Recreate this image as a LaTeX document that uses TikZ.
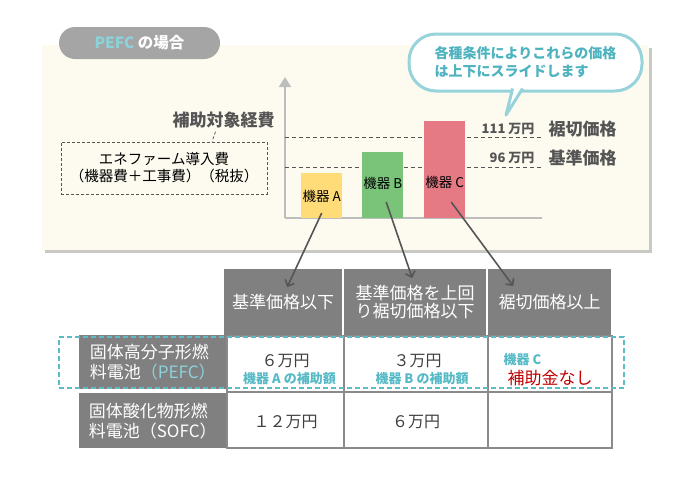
\documentclass[tikz,border=0pt]{standalone}
\usepackage{fontspec}
\setmainfont{Noto Sans CJK JP}
\usepackage{xcolor}
\usepackage{tikz}
\usetikzlibrary{arrows.meta,positioning}
\definecolor{panelbg}{HTML}{FDFBEF}
\definecolor{panelshadow}{HTML}{C8C8C4}
\definecolor{pillgray}{HTML}{A5A5A5}
\definecolor{pefccyan}{HTML}{8CD2DA}
\definecolor{notecyan}{HTML}{4DB3BF}
\definecolor{noteline}{HTML}{97D3DA}
\definecolor{axisgray}{HTML}{BDBDBD}
\definecolor{textgray}{HTML}{555555}
\definecolor{valgray}{HTML}{404040}
\definecolor{cellgray}{HTML}{808080}
\definecolor{gridgray}{HTML}{8A8A8A}
\definecolor{yellowbar}{HTML}{FFDC78}
\definecolor{greenbar}{HTML}{7AC47A}
\definecolor{pinkbar}{HTML}{E57A85}
\definecolor{subcyan}{HTML}{55BAC6}
\definecolor{nored}{HTML}{C00000}
\definecolor{dashcyan}{HTML}{5BBCC6}
\begin{document}
\begin{tikzpicture}[x=1pt,y=-1pt,>={Straight Barb[length=5pt,width=10pt]},
barbox/.style={anchor=south west,inner sep=0pt,minimum width=41pt},
barlabel/.style={font=\fontsize{13.5}{15}\selectfont,text=black},
pricenum/.style={font=\bfseries\fontsize{13}{15}\selectfont,text=textgray},
pricename/.style={font=\bfseries\fontsize{17}{19}\selectfont,text=textgray},
head/.style={anchor=north west,fill=cellgray,text=white,inner sep=0pt,align=center,minimum height=66pt,font=\fontsize{17}{18}\selectfont},
rowhead/.style={anchor=north west,fill=cellgray,text=white,inner sep=0pt,align=left,minimum width=147pt,font=\fontsize{17}{20}\selectfont},
cell/.style={anchor=north west,draw=gridgray,line width=2pt,fill=white,inner sep=0pt,minimum height=56pt},
valtext/.style={font=\fontsize{16}{18}\selectfont,text=valgray},
subtext/.style={font=\bfseries\fontsize{13}{15}\selectfont,text=subcyan},
link/.style={->,draw=textgray,line width=1.6pt}]
\useasboundingbox (0,0) rectangle (690,483);
% upper panel
\fill[panelshadow] (45,48) rectangle (652,253);
\fill[panelbg] (42,45) rectangle (649,250);
\node[fill=pillgray,rounded corners=16pt,minimum width=161pt,minimum height=32pt,inner sep=0pt,text=white,font=\bfseries\fontsize{15.5}{17}\selectfont] (title) at (139.5,43) {\textcolor{pefccyan}{PEFC} の場合};
% callout
\node[draw=noteline,line width=3pt,fill=white,rounded corners=27pt,minimum width=233pt,minimum height=57pt,align=left,text=notecyan,font=\bfseries\fontsize{14}{18}\selectfont] (note) at (525.5,62.5) {各種条件によりこれらの価格\\は上下にスライドします};
\coordinate (tailL) at (512.6,88.5);
\coordinate (tailR) at (522.6,88.5);
\coordinate (tailtip) at (506,115);
\fill[white] (tailL) -- (tailtip) -- (tailR) -- cycle;
\draw[noteline,line width=3pt,line join=round] (tailL) -- (tailtip) -- (tailR);
% axes and price lines
\coordinate (O) at (285,218);
\draw[axisgray,line width=2pt,-{Triangle[length=10pt,width=12pt]}] (O) -- (285,77);
\draw[axisgray,line width=2pt] (O) -- (542,218);
\draw[textgray,line width=0.8pt,dash pattern=on 4pt off 3pt] (285,137) -- (542,137);
\draw[textgray,line width=0.8pt,dash pattern=on 4pt off 3pt] (285,167) -- (542,167);
\node[pricenum,anchor=east] (cutnum) at (538,129) {111 万円};
\node[pricename,anchor=west] (cutname) at (545,129) {裾切価格};
\node[pricenum,anchor=east] (basenum) at (538,158) {96 万円};
\node[pricename,anchor=west] (basename) at (545,158) {基準価格};
% bars
\node[barbox,fill=yellowbar,minimum height=45pt] (barA) at (301,218) {};
\node[barbox,fill=greenbar,minimum height=66pt] (barB) at (362,218) {};
\node[barbox,fill=pinkbar,minimum height=97pt] (barC) at (424,218) {};
\node[barlabel] (labA) at ([yshift=22pt]barA.south) {機器 A};
\node[barlabel] (labB) at ([yshift=35pt]barB.south) {機器 B};
\node[barlabel] (labC) at ([yshift=36pt]barC.south) {機器 C};
% eligible cost
\node[font=\bfseries\fontsize{17}{19}\selectfont,text=textgray] (costlabel) at (223.5,120) {補助対象経費};
\node[draw=textgray,line width=0.8pt,dash pattern=on 3pt off 2pt,minimum width=206pt,minimum height=52pt,align=center,font=\fontsize{14.5}{17}\selectfont] (costbox) at (164,168) {エネファーム導入費\\（機器費＋工事費）（税抜）};
\draw[textgray,line width=0.8pt,dash pattern=on 3pt off 2pt] ([xshift=-8pt]costlabel.south) -- ([xshift=48pt]costbox.north);
% table
\node[head,minimum width=118pt] (hA) at (224,269) {基準価格以下};
\node[head,minimum width=142pt] (hB) at (344,269) {基準価格を上回\\り裾切価格以下};
\node[head,minimum width=123pt] (hC) at (488,269) {裾切価格以上};
\node[rowhead,minimum height=54pt] (rPEFC) at (79,335) {固体高分子形燃\\料電池\textcolor{pefccyan}{（PEFC）}};
\node[rowhead,minimum height=55pt] (rSOFC) at (79,393) {固体酸化物形燃\\料電池（SOFC）};
\node[cell,minimum width=117pt] (cA1) at (226,335) {};
\node[cell,minimum width=144pt] (cB1) at (343,335) {};
\node[cell,minimum width=124pt] (cC1) at (487,335) {};
\node[cell,minimum width=117pt] (cA2) at (226,391) {};
\node[cell,minimum width=144pt] (cB2) at (343,391) {};
\node[cell,minimum width=124pt] (cC2) at (487,391) {};
\node[valtext] (vA1) at ([yshift=3pt]cA1.center) {６万円};
\node[subtext] (sA1) at ([xshift=4pt,yshift=-15pt]cA1.center) {機器 A の補助額};
\node[valtext] (vB1) at ([xshift=1.5pt,yshift=3pt]cB1.center) {３万円};
\node[subtext] (sB1) at ([xshift=6pt,yshift=-15pt]cB1.center) {機器 B の補助額};
\node[subtext,anchor=west] (sC1) at ([xshift=-50pt,yshift=4pt]cC1.center) {機器 C};
\node[font=\fontsize{17}{19}\selectfont,text=nored] (vC1) at ([yshift=-14pt]cC1.center) {補助金なし};
\node[valtext] (vA2) at ([yshift=-2pt]cA2.center) {１２万円};
\node[valtext] (vB2) at ([yshift=-2pt]cB2.center) {６万円};
\node[draw=dashcyan,line width=2pt,dash pattern=on 5pt off 3pt,minimum width=565pt,minimum height=51pt,inner sep=0pt] (pefcrow) at (341.5,362.5) {};
% arrows from bars to the table
\coordinate (tipA) at ([xshift=4pt,yshift=-18pt]hA.north);
\coordinate (tipB) at ([xshift=-3pt,yshift=-9pt]hB.north);
\coordinate (tipC) at ([xshift=-36.5pt,yshift=-17pt]hC.north);
\draw[link] ([yshift=5pt]barA.south) -- (tipA);
\draw[link] ([xshift=3.5pt,yshift=16pt]barB.south) -- (tipB);
\draw[link] ([xshift=6.5pt,yshift=16pt]barC.south) -- (tipC);
\end{tikzpicture}
\end{document}
